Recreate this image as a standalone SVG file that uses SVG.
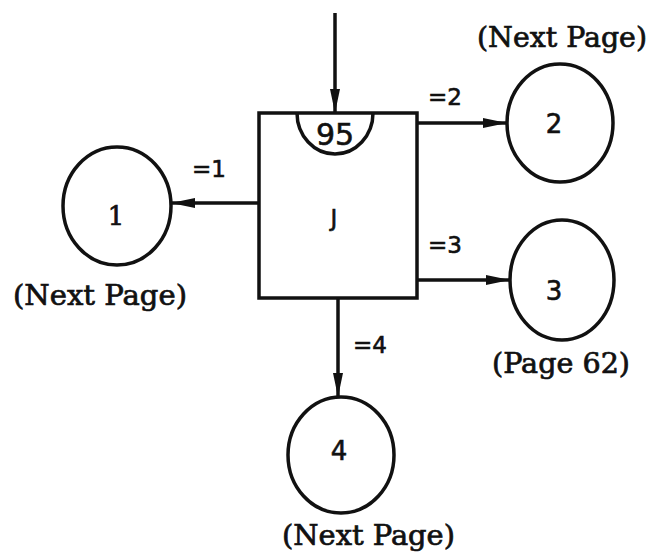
<svg xmlns="http://www.w3.org/2000/svg" width="654" height="555" viewBox="0 0 654 555">
<defs>
<style>
.ln{stroke:#111;stroke-width:3.5;fill:none}
.nd{stroke:#111;stroke-width:3.5;fill:none}
.lb{font-family:"DejaVu Sans","Liberation Sans",sans-serif;fill:#111;stroke:#111;stroke-width:0.6}
.sr{font-family:"DejaVu Serif","Liberation Serif",serif;fill:#111;stroke:#111;stroke-width:0.7}
</style>
<marker id="ah" markerUnits="userSpaceOnUse" markerWidth="26" markerHeight="12" refX="24" refY="6" orient="auto">
<path d="M0,1 L24,6 L0,11 Z" fill="#111"/>
</marker>
</defs>
<g id="connectors">
<line class="ln" x1="335" y1="13" x2="335" y2="113" marker-end="url(#ah)"/>
<line class="ln" x1="259" y1="203" x2="171" y2="203" marker-end="url(#ah)"/>
<line class="ln" x1="417" y1="123" x2="507" y2="123" marker-end="url(#ah)"/>
<line class="ln" x1="417" y1="280" x2="510" y2="280" marker-end="url(#ah)"/>
<line class="ln" x1="338" y1="298" x2="338" y2="397" marker-end="url(#ah)"/>
<text class="lb" x="192" y="177" font-size="23">=1</text>
<text class="lb" x="428" y="105" font-size="23">=2</text>
<text class="lb" x="428" y="253" font-size="23">=3</text>
<text class="lb" x="353" y="353" font-size="23">=4</text>
</g>
<g id="J">
<rect class="nd" x="259" y="113" width="158" height="185"/>
<path class="nd" d="M297,113 A38,41 0 0 0 373,113"/>
<text class="lb" x="335" y="145" font-size="30" text-anchor="middle">95</text>
<text class="lb" x="334" y="226" font-size="23" text-anchor="middle">J</text>
</g>
<g id="n1">
<ellipse class="nd" cx="117" cy="206" rx="54" ry="59"/>
<text class="sr" x="116" y="225" font-size="26" text-anchor="middle">1</text>
<text class="sr" x="13" y="305" font-size="27" textLength="174" lengthAdjust="spacingAndGlyphs">(Next Page)</text>
</g>
<g id="n2">
<ellipse class="nd" cx="560" cy="123" rx="53" ry="59"/>
<text class="lb" x="554" y="133" font-size="26" text-anchor="middle">2</text>
<text class="sr" x="477" y="47" font-size="27" textLength="170" lengthAdjust="spacingAndGlyphs">(Next Page)</text>
</g>
<g id="n3">
<ellipse class="nd" cx="562" cy="280" rx="52" ry="60"/>
<text class="lb" x="554" y="300" font-size="26" text-anchor="middle">3</text>
<text class="sr" x="492" y="373" font-size="27" textLength="138" lengthAdjust="spacingAndGlyphs">(Page 62)</text>
</g>
<g id="n4">
<ellipse class="nd" cx="341" cy="455" rx="53" ry="58"/>
<text class="lb" x="339" y="460" font-size="26" text-anchor="middle">4</text>
<text class="sr" x="282" y="545" font-size="27" textLength="173" lengthAdjust="spacingAndGlyphs">(Next Page)</text>
</g>
</svg>
